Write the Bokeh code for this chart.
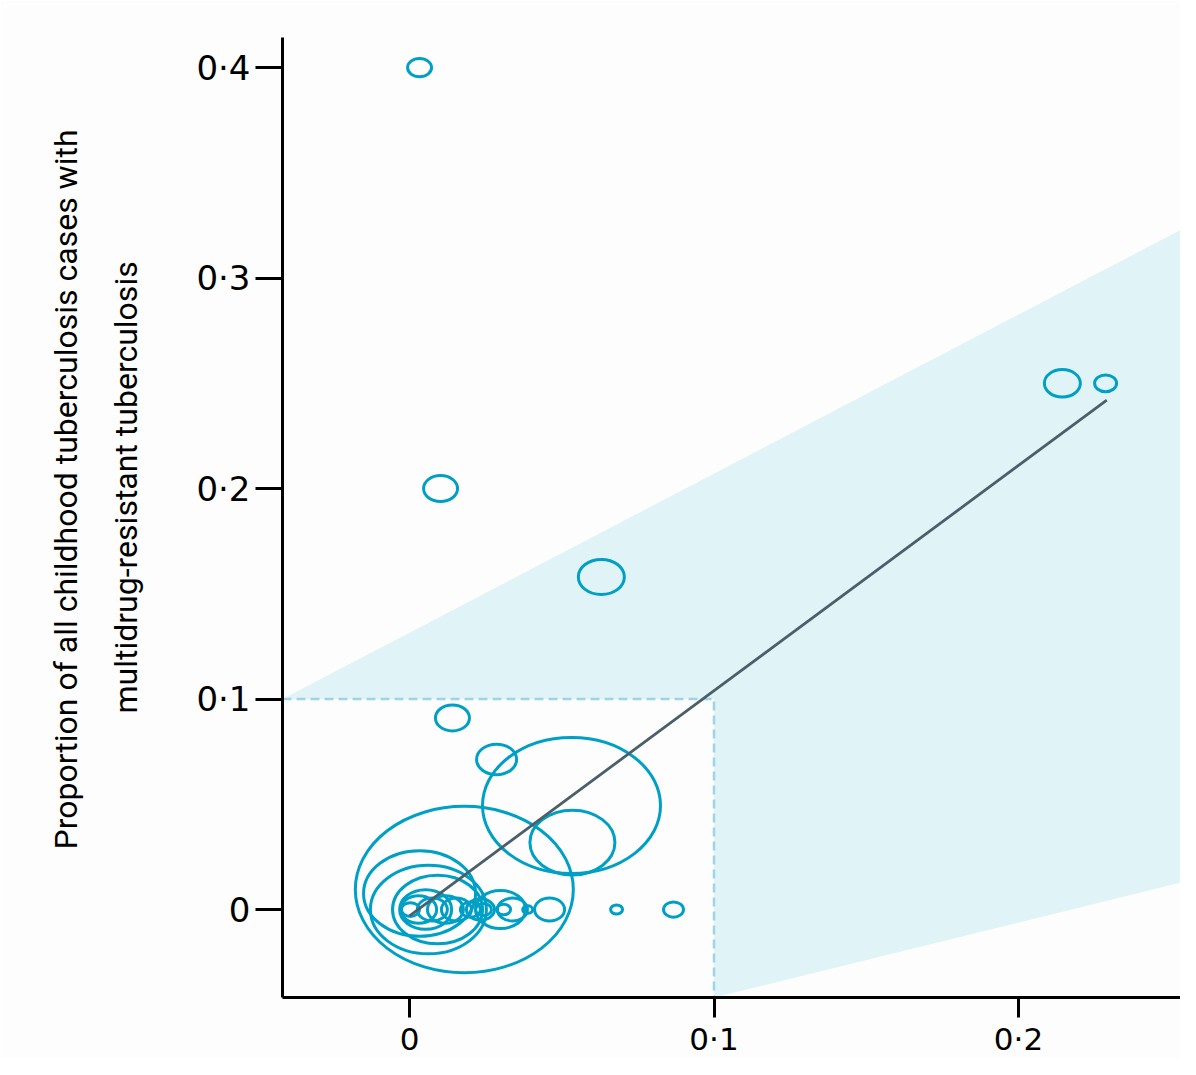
from bokeh.plotting import figure
from bokeh.models import Range1d, FixedTicker, Title, ColumnDataSource
from bokeh.embed import file_html
from bokeh.resources import INLINE

# ---- data ----
bubble_x = [0.0033, 0.0102, 0.0630, 0.0141, 0.0286, 0.0532, 0.0535, 0.2144, 0.2286,
            0.0680, 0.0867, 0.0460,
            0.0180, 0.0033, 0.0062, 0.0092, 0.0053, 0.0030, 0.0075, 0.0118, 0.0154,
            0.0003, 0.0200, 0.0233, 0.0243, 0.0299, 0.0309, 0.0338, 0.0388]
bubble_y = [0.400, 0.200, 0.158, 0.091, 0.0713, 0.0494, 0.0318, 0.250, 0.250,
            0.0, 0.0, 0.0,
            0.0095, 0.0076, 0.0, 0.0, 0.0, 0.0, 0.0, 0.0, 0.0,
            0.0, 0.0, 0.0, 0.0, 0.0, 0.0, 0.0, 0.0]
# bubble diameter (proportional to study weight)
bubble_d = [24, 34, 46, 34, 40, 178, 85, 36, 22,
            12, 20, 30,
            218, 112, 116, 90, 52, 36, 30, 36, 30,
            18, 20, 28, 16, 50, 14, 30, 10]

# meta-regression line
fit_x = [0.0, 0.229]
fit_y = [-0.003, 0.242]

# shaded prediction band
band_x = [-0.0417, 0.26, 0.26, 0.1, 0.1]
band_y = [0.1, 0.328, 0.0152, -0.0418, 0.1]

# 0.1 threshold (dashed)
thresh_x = [-0.0417, 0.1, 0.1]
thresh_y = [0.1, 0.1, -0.0418]

x_ticks = [0, 0.1, 0.2]
x_tick_labels = ["0", "0·1", "0·2"]
y_ticks = [0, 0.1, 0.2, 0.3, 0.4]
y_tick_labels = ["0", "0·1", "0·2", "0·3", "0·4"]

y_title = ["Proportion of all childhood tuberculosis cases with",
           "multidrug-resistant tuberculosis"]

ASPECT = 1.31

src = ColumnDataSource(dict(x=bubble_x, y=bubble_y, w=bubble_d,
                            h=[d / ASPECT for d in bubble_d]))

p = figure(width=1180, height=1059,
           x_range=Range1d(-0.04171, 0.25320), y_range=Range1d(-0.0418, 0.4143),
           output_backend="svg", toolbar_location=None,
           min_border_left=282, min_border_right=0, min_border_top=37, min_border_bottom=62)
p.background_fill_color = "#fdfdfd"
p.border_fill_color = "#fdfdfd"
p.outline_line_color = None
p.grid.visible = False

p.patch(band_x, band_y, fill_color="#e0f3f6", line_color=None)
p.line(thresh_x, thresh_y, line_color="#9dd5e6", line_width=2.5, line_dash="9 5")

p.ellipse(x="x", y="y", width="w", height="h", source=src,
          width_units="screen", height_units="screen",
          fill_color=None, line_color="#009fc5", line_width=3)

p.line(fit_x, fit_y, line_color="#4b5f6a", line_width=2.8)

# axes
for ax in (p.xaxis[0], p.yaxis[0]):
    ax.axis_line_color = "black"
    ax.axis_line_width = 3
    ax.major_tick_line_color = "black"
    ax.major_tick_line_width = 3
    ax.major_tick_in = 0
    ax.minor_tick_line_color = None
    ax.major_label_text_color = "black"
    ax.major_label_text_font = "DejaVu Sans"

p.xaxis.ticker = FixedTicker(ticks=x_ticks)
p.xaxis.major_label_overrides = dict(zip(x_ticks, x_tick_labels))
p.xaxis.major_tick_out = 20
p.xaxis.major_label_standoff = 3
p.xaxis.major_label_text_font_size = "31px"

p.yaxis.ticker = FixedTicker(ticks=y_ticks)
p.yaxis.major_label_overrides = dict(zip(y_ticks, y_tick_labels))
p.yaxis.major_tick_out = 27
p.yaxis.major_label_standoff = 5
p.yaxis.major_label_text_font_size = "34px"

# y-axis title (two lines), placed to the left of the axis
spacer = Title(text=" ", text_font_size="1px", standoff=46)
t2 = Title(text=y_title[1], align="left", offset=284, standoff=0,
           text_font="Roboto", text_font_size="32px",
           text_font_style="normal", text_color="black")
t1 = Title(text=y_title[0], align="left", offset=148, standoff=40,
           text_font="Roboto", text_font_size="32px",
           text_font_style="normal", text_color="black")
p.add_layout(spacer, "left")
p.add_layout(t2, "left")
p.add_layout(t1, "left")

open("out.html", "w").write(file_html(p, INLINE))
